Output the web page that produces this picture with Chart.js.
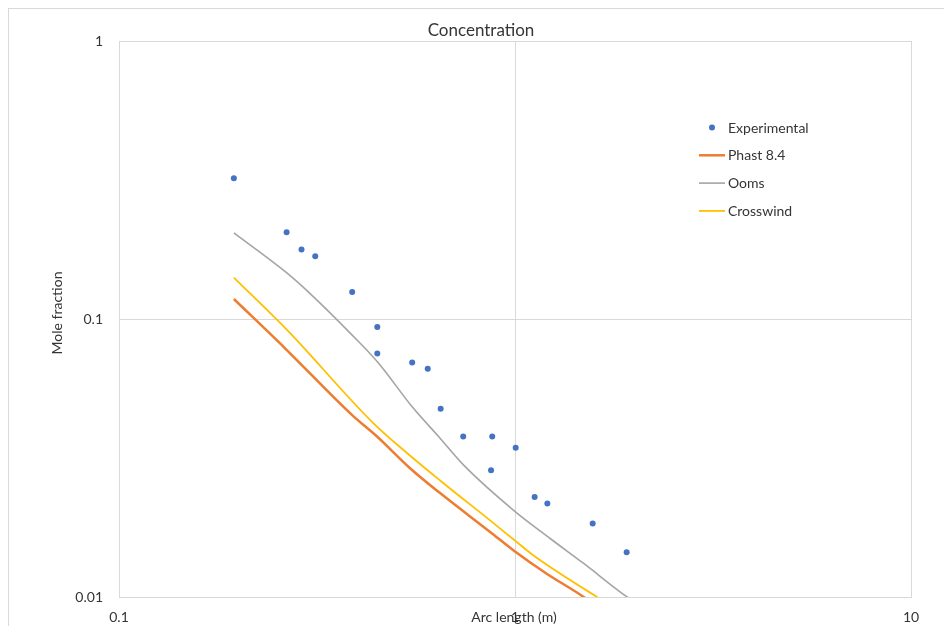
<!DOCTYPE html>
<html>
<head>
<meta charset="utf-8">
<script src="https://cdn.jsdelivr.net/npm/chart.js@4.4.0/dist/chart.umd.min.js"></script>
<style>
  html, body { margin: 0; padding: 0; background: #fff; overflow: hidden; }
  #wrap { position: relative; width: 944px; height: 626px; }
  canvas { display: block; }
</style>
</head>
<body>
<div id="wrap"><canvas id="c" width="944" height="626"></canvas></div>
<script>
// Axis ticks (log-log)
const xTicks = [0.1, 1, 10];
const xTickLabels = ['0.1', '1', '10'];
const yTicks = [0.01, 0.1, 1];
const yTickLabels = ['0.01', '0.1', '1'];

// Experimental measurements: arc length (m) vs mole fraction
const expX = [0.195, 0.265, 0.289, 0.313, 0.388, 0.449, 0.449, 0.550, 0.602, 0.649, 0.740, 0.876, 0.870, 1.004, 1.121, 1.207, 1.571, 1.914];
const expY = [0.321, 0.205, 0.178, 0.168, 0.125, 0.0935, 0.0752, 0.0697, 0.0662, 0.0476, 0.0378, 0.0378, 0.0286, 0.0344, 0.0229, 0.0217, 0.0184, 0.0145];

// Model predictions
const phastX = [0.195, 0.263, 0.388, 0.449, 0.544, 0.648, 0.867, 0.992, 1.205, 1.491, 1.75];
const phastY = [0.118, 0.0783, 0.0451, 0.0377, 0.0290, 0.0236, 0.0171, 0.0147, 0.0121, 0.0100, 0.0084];

const oomsX = [0.195, 0.263, 0.301, 0.388, 0.453, 0.550, 0.642, 0.742, 0.992, 1.229, 1.491, 1.919, 2.2];
const oomsY = [0.204, 0.148, 0.125, 0.0875, 0.0692, 0.0483, 0.0377, 0.0298, 0.0205, 0.0162, 0.0132, 0.0100, 0.0088];

const crossX = [0.195, 0.266, 0.436, 0.529, 0.648, 0.884, 0.992, 1.114, 1.612, 1.9];
const crossY = [0.141, 0.0912, 0.0426, 0.0333, 0.0262, 0.0184, 0.0161, 0.0141, 0.0100, 0.0087];

const pts = (xs, ys) => xs.map((x, i) => ({ x: x, y: ys[i] }));

const FONT = 'Lato, "Open Sans", sans-serif';
const TEXT = '#353535';
const GRID = '#d9d9d9';

Chart.defaults.font.family = FONT;
Chart.defaults.color = TEXT;

// Frame, titles and legend drawn around/inside the plot
const decorations = {
  id: 'decorations',
  beforeDraw(chart) {
    const c = chart.ctx;
    c.save();
    c.fillStyle = '#fff';
    c.fillRect(0, 0, chart.width, chart.height);
    c.strokeStyle = GRID;
    c.lineWidth = 1;
    c.strokeRect(8.5, 8.5, chart.width + 10, chart.height + 10);
    c.restore();
  },
  afterDraw(chart) {
    const c = chart.ctx;
    c.save();
    c.fillStyle = TEXT;
    c.textBaseline = 'middle';
    c.textAlign = 'center';
    c.font = '17px ' + FONT;
    c.fillText('Concentration', 481, 31);
    c.font = '14px ' + FONT;
    c.fillText('Arc length (m)', 514, 617);
    c.save();
    c.translate(57, 313);
    c.rotate(-Math.PI / 2);
    c.fillText('Mole fraction', 0, 0);
    c.restore();

    // legend
    const lx = 699, tx = 728, y0 = 127.5, dy = 27.8;
    c.textAlign = 'left';
    c.font = '14px ' + FONT;
    chart.data.datasets.forEach((ds, i) => {
      const y = y0 + i * dy;
      if (ds.showLine) {
        c.strokeStyle = ds.borderColor;
        c.lineWidth = ds.borderWidth;
        c.beginPath();
        c.moveTo(lx, y);
        c.lineTo(lx + 26, y);
        c.stroke();
      } else {
        c.fillStyle = ds.pointBackgroundColor;
        c.beginPath();
        c.arc(lx + 13, y, 3, 0, Math.PI * 2);
        c.fill();
      }
      c.fillStyle = TEXT;
      c.fillText(ds.label, tx, y + 0.5);
    });
    c.restore();
  }
};

const fixTicks = (vals) => (scale) => { scale.ticks = vals.map(v => ({ value: v })); };

new Chart(document.getElementById('c'), {
  type: 'scatter',
  data: {
    datasets: [
      { label: 'Experimental', data: pts(expX, expY), showLine: false,
        pointRadius: 3, pointBackgroundColor: '#4472C4', pointBorderColor: '#4472C4', pointBorderWidth: 0 },
      { label: 'Phast 8.4', data: pts(phastX, phastY), showLine: true, borderColor: '#ED7D31',
        borderWidth: 2.5, pointRadius: 0, cubicInterpolationMode: 'monotone' },
      { label: 'Ooms', data: pts(oomsX, oomsY), showLine: true, borderColor: '#A5A5A5',
        borderWidth: 1.6, pointRadius: 0, cubicInterpolationMode: 'monotone' },
      { label: 'Crosswind', data: pts(crossX, crossY), showLine: true, borderColor: '#FFC000',
        borderWidth: 1.8, pointRadius: 0, cubicInterpolationMode: 'monotone' }
    ]
  },
  options: {
    responsive: false,
    animation: false,
    devicePixelRatio: 1,
    layout: { padding: { left: 0, right: 33, top: 41, bottom: 0 } },
    plugins: { legend: { display: false }, title: { display: false }, tooltip: { enabled: false } },
    scales: {
      x: {
        type: 'logarithmic', min: 0.1, max: 10,
        afterBuildTicks: fixTicks(xTicks),
        afterFit: (s) => { s.height = 29; },
        grid: { color: GRID, drawTicks: false },
        border: { color: GRID },
        ticks: { padding: 12, font: { size: 14 }, color: TEXT, maxRotation: 0,
                 callback: (v, i) => xTickLabels[i] }
      },
      y: {
        type: 'logarithmic', min: 0.01, max: 1,
        afterBuildTicks: fixTicks(yTicks),
        afterFit: (s) => { s.width = 119; },
        grid: { color: GRID, drawTicks: false },
        border: { color: GRID },
        ticks: { padding: 16, font: { size: 14 }, color: TEXT,
                 callback: (v, i) => yTickLabels[i] }
      }
    }
  },
  plugins: [decorations]
});
</script>
</body>
</html>
